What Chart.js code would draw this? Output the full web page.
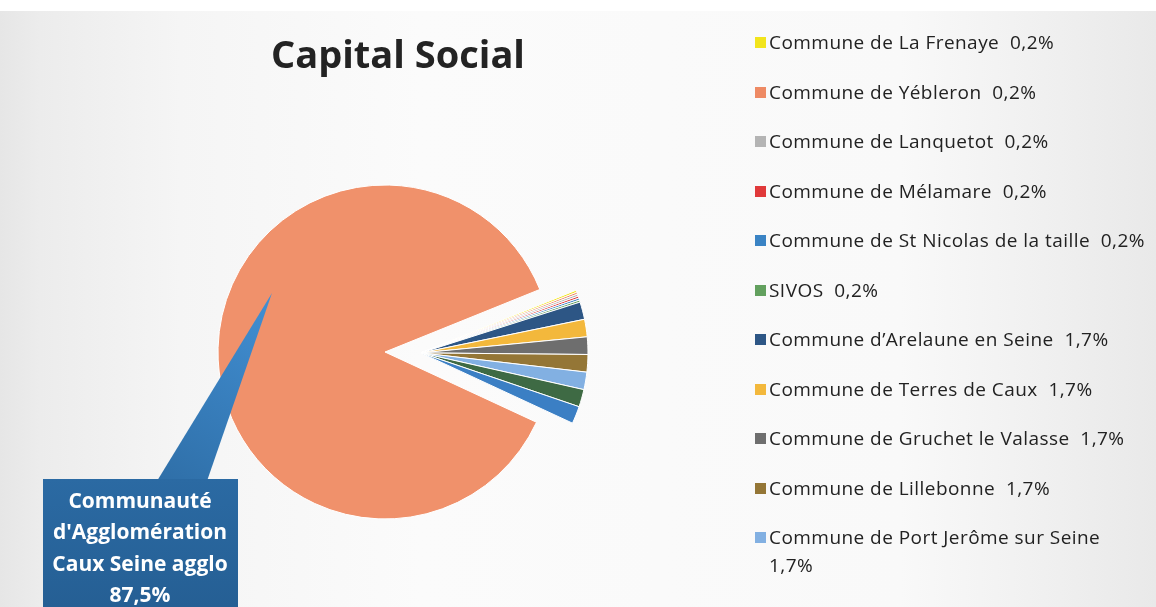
<!DOCTYPE html>
<html>
<head>
<meta charset="utf-8">
<script src="https://cdn.jsdelivr.net/npm/chart.js@4/dist/chart.umd.min.js"></script>
<style>
  html, body { margin: 0; padding: 0; }
  body { width: 1156px; height: 607px; overflow: hidden; position: relative; background: #fff; }
  #paper {
    position: absolute; left: 0; top: 11px; width: 1156px; height: 596px;
    background: linear-gradient(to right, #e6e6e6 0px, #ececec 40px, #f5f5f5 180px, #fbfbfb 420px, #f9f9f9 900px, #e9e9e9 1156px);
  }
  #wrap { position: absolute; left: 0; top: 0; width: 1156px; height: 607px; }
  #title {
    position: absolute; left: 200px; width: 396px; top: 27px; text-align: center;
    font-family: "Open Sans", sans-serif; font-weight: bold; font-size: 38px; color: #232323;
  }
  #legend { position: absolute; left: 755px; top: 0; font-family: "Open Sans", sans-serif; font-size: 19px; letter-spacing: 0.45px; color: #222; }
  .item { position: absolute; left: 0; width: 400px; }
  .box { position: absolute; left: 0; top: 8px; width: 11px; height: 11px; }
  .txt { position: absolute; left: 14px; top: -1px; width: 380px; line-height: 28px; white-space: pre-wrap; }
</style>
</head>
<body>
<div id="paper"></div>
<div id="wrap"><canvas id="myChart"></canvas></div>
<div id="title">Capital Social</div>
<div id="legend"></div>
<script>
let labels = [
  'Commune de La Frenaye', 'Commune de Yébleron', 'Commune de Lanquetot', 'Commune de Mélamare',
  'Commune de St Nicolas de la taille', 'SIVOS', 'Commune d\u2019Arelaune en Seine',
  'Commune de Terres de Caux', 'Commune de Gruchet le Valasse', 'Commune de Lillebonne',
  'Commune de Port Jerôme sur Seine', '', '',
  'Communauté d\'Agglomération Caux Seine agglo'
];
let values = [0.2, 0.2, 0.2, 0.2, 0.2, 0.2, 1.7, 1.7, 1.7, 1.7, 1.7, 1.7, 1.7, 87.5];
let colorHex = [
  '#f2e41c', '#ee8a64', '#b4b4b4', '#e0393a', '#3a83c4', '#62a05e', '#2d5685',
  '#f3b83c', '#6e6e6e', '#947636', '#82b0e2', '#3e6a44', '#3b7fc4', '#f0916b'
];
// small slices are pulled out together
let explode = 36;

const fmt = (v) => v.toFixed(1).replace('.', ',') + '%';

const pullOut = {
  id: 'pullOut',
  afterDatasetsUpdate(chart) {
    const arcs = chart.getDatasetMeta(0).data;
    const last = arcs.length - 1;
    const big = arcs[last];
    const mid = (arcs[0].startAngle + arcs[last - 1].endAngle) / 2;
    for (let i = 0; i < last; i++) {
      arcs[i].x = big.x + Math.cos(mid) * explode;
      arcs[i].y = big.y + Math.sin(mid) * explode;
    }
  }
};

// callout for the big slice
const callout = {
  id: 'callout',
  afterDraw(chart) {
    const c = chart.ctx;
    const last = values.length - 1;
    const lines = ['Communauté', 'd\'Agglomération', 'Caux Seine agglo', fmt(values[last])];
    c.save();
    let g = c.createLinearGradient(160, 480, 272, 292);
    g.addColorStop(0, '#2f6fa8');
    g.addColorStop(1, '#4290d4');
    c.fillStyle = g;
    c.beginPath();
    c.moveTo(157, 481);
    c.lineTo(272, 293);
    c.lineTo(207, 481);
    c.closePath();
    c.fill();
    g = c.createLinearGradient(0, 479, 0, 607);
    g.addColorStop(0, '#2b6aa3');
    g.addColorStop(1, '#255f94');
    c.fillStyle = g;
    c.fillRect(43, 479, 195, 140);
    c.fillStyle = '#ffffff';
    c.font = 'bold 21px "Open Sans"';
    c.textAlign = 'center';
    c.textBaseline = 'alphabetic';
    lines.forEach((l, i) => c.fillText(l, 140, 508 + i * 31.3));
    c.restore();
  }
};

let ctx = document.getElementById('myChart').getContext('2d');
let myChart = new Chart(ctx, {
  type: 'pie',
  data: {
    labels: labels,
    datasets: [{
      data: values,
      backgroundColor: colorHex,
      borderColor: '#ffffff',
      borderWidth: 1
    }]
  },
  options: {
    responsive: true,
    maintainAspectRatio: false,
    animation: false,
    rotation: 68,
    radius: 167,
    layout: { padding: { left: 0, right: 1156 - 2 * 385, top: 2 * 352 - 607, bottom: 0 } },
    plugins: {
      legend: { display: false },
      tooltip: { enabled: false }
    }
  },
  plugins: [pullOut, callout]
});

// html legend, only the entries that show in the picture
let legend = document.getElementById('legend');
labels.forEach((l, i) => {
  if (!l || i === labels.length - 1) return;
  let row = document.createElement('div');
  row.className = 'item';
  row.style.top = (29 + i * 49.5) + 'px';
  row.innerHTML = '<div class="box" style="background:' + colorHex[i] + '"></div>' +
    '<div class="txt">' + l + '  ' + fmt(values[i]) + '</div>';
  legend.appendChild(row);
});
</script>
</body>
</html>
